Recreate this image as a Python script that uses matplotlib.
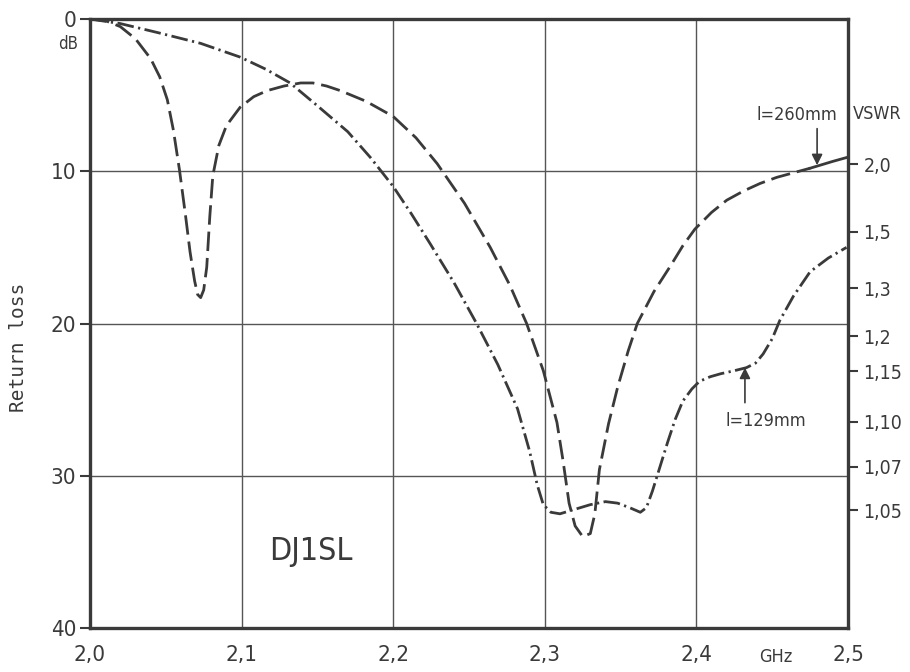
import numpy as np
import matplotlib
matplotlib.use("Agg")
import matplotlib.pyplot as plt

# l = 260 mm curve (dashed), frequency in GHz, return loss in dB
f_260 = [2.000, 2.010, 2.020, 2.030, 2.040, 2.046, 2.051, 2.055, 2.059, 2.063,
         2.066, 2.069, 2.071, 2.073, 2.075, 2.077, 2.079, 2.081, 2.085, 2.090,
         2.099, 2.108, 2.117, 2.128, 2.139, 2.147, 2.156, 2.165, 2.182, 2.200,
         2.215, 2.229, 2.247, 2.264, 2.277, 2.288, 2.299, 2.308, 2.312, 2.316,
         2.320, 2.325, 2.330, 2.333, 2.336, 2.342, 2.348, 2.355, 2.361, 2.372,
         2.383, 2.391, 2.399, 2.410, 2.420, 2.431, 2.442, 2.453, 2.464, 2.475]
rl_260 = [0.0, 0.1, 0.5, 1.3, 2.6, 3.8, 5.3, 7.3, 9.9, 12.9,
          15.3, 17.2, 18.1, 18.3, 17.8, 16.3, 13.0, 10.3, 8.3, 7.0,
          5.8, 5.1, 4.7, 4.4, 4.2, 4.2, 4.4, 4.7, 5.4, 6.4,
          7.8, 9.5, 12.1, 15.0, 17.5, 20.0, 23.1, 26.5, 29.0, 31.8,
          33.3, 34.0, 33.8, 32.5, 29.6, 26.6, 24.2, 21.8, 20.0, 17.9,
          16.2, 14.9, 13.8, 12.7, 11.9, 11.3, 10.8, 10.4, 10.1, 9.8]
# solid tail of the 260 mm curve
f_260_end = [2.475, 2.480, 2.490, 2.499]
rl_260_end = [9.8, 9.65, 9.35, 9.1]

# l = 129 mm curve (dash-dot)
f_129 = [2.000, 2.020, 2.045, 2.073, 2.099, 2.116, 2.132, 2.150, 2.170, 2.185,
         2.200, 2.212, 2.224, 2.240, 2.255, 2.269, 2.282, 2.290, 2.295, 2.299,
         2.304, 2.310, 2.320, 2.330, 2.340, 2.348, 2.356, 2.363, 2.367, 2.371,
         2.376, 2.381, 2.386, 2.391, 2.397, 2.402, 2.409, 2.416, 2.425, 2.433,
         2.439, 2.444, 2.450, 2.455, 2.464, 2.475, 2.487, 2.499]
rl_129 = [0.0, 0.3, 0.9, 1.6, 2.5, 3.3, 4.2, 5.7, 7.4, 9.1,
          11.0, 12.8, 14.7, 17.3, 20.0, 22.7, 25.6, 28.4, 30.6, 31.9,
          32.4, 32.5, 32.2, 31.9, 31.7, 31.8, 32.1, 32.4, 32.1, 31.0,
          29.4, 27.8, 26.3, 25.1, 24.3, 23.8, 23.5, 23.3, 23.1, 22.9,
          22.6, 22.0, 21.0, 19.8, 18.2, 16.6, 15.7, 15.0]

x_ticks = [2.0, 2.1, 2.2, 2.3, 2.4, 2.5]
x_labels = ["2,0", "2,1", "2,2", "2,3", "2,4", "2,5"]
y_ticks = [0, 10, 20, 30, 40]
vswr_vals = [2.0, 1.5, 1.3, 1.2, 1.15, 1.10, 1.07, 1.05]
vswr_labels = ["2,0", "1,5", "1,3", "1,2", "1,15", "1,10", "1,07", "1,05"]

ink = "#3a3a3a"
plt.rcParams["font.family"] = ["DejaVu Sans"]
plt.rcParams["font.stretch"] = "condensed"

fig = plt.figure(figsize=(9.1, 6.72), dpi=100)
ax = fig.add_axes([0.0989, 0.0655, 0.8330, 0.9062])

ax.set_xlim(2.0, 2.5)
ax.set_ylim(40, 0)
ax.set_xticks(x_ticks)
ax.set_xticklabels(x_labels)
ax.set_yticks(y_ticks)
ax.grid(True, color="#555555", lw=1.0)
for s in ax.spines.values():
    s.set_linewidth(2.4)
    s.set_color(ink)
ax.tick_params(axis="x", length=0, pad=12, labelsize=16, colors=ink)
ax.tick_params(axis="y", length=7, width=1.5, pad=3, labelsize=16, colors=ink)

ax.plot(f_260, rl_260, color=ink, lw=2.0, dashes=(7, 2.5))
ax.plot(f_260_end, rl_260_end, color=ink, lw=2.0)
ax.plot(f_129, rl_129, color=ink, lw=2.0, dashes=(6, 1.6, 0.8, 1.6))

# VSWR scale on the right, placed at the matching return loss
ax2 = ax.twinx()
ax2.set_ylim(40, 0)
rl_of_vswr = [-20 * np.log10((v - 1) / (v + 1)) for v in vswr_vals]
ax2.set_yticks(rl_of_vswr)
ax2.set_yticklabels(vswr_labels)
ax2.tick_params(axis="y", length=7, width=1.5, pad=4, labelsize=14, colors=ink)
for s in ax2.spines.values():
    s.set_visible(False)

ax.set_ylabel("Return loss", fontsize=14, color=ink, family="DejaVu Sans Mono")
ax.yaxis.set_label_coords(-0.082, 0.46)
fig.text(0.075, 0.935, "dB", fontsize=12, color=ink, ha="center", va="center")
fig.text(0.964, 0.83, "VSWR", fontsize=13, color=ink, ha="center", va="center")
fig.text(0.853, 0.022, "GHz", fontsize=13, color=ink, ha="center", va="center")
ax.text(2.146, 35.0, "DJ1SL", fontsize=23, color=ink, ha="center", va="center")

# length markers: text with a vertical arrow onto the curve
ax.text(2.4665, 6.3, "l=260mm", fontsize=13, color=ink, ha="center", va="center")
ax.annotate("", xy=(2.4796, 9.6), xytext=(2.4796, 7.2),
            arrowprops=dict(arrowstyle="-|>", color=ink, lw=1.2,
                            mutation_scale=16, shrinkA=0, shrinkB=0))
ax.text(2.446, 26.4, "l=129mm", fontsize=13, color=ink, ha="center", va="center")
ax.annotate("", xy=(2.432, 22.9), xytext=(2.432, 25.2),
            arrowprops=dict(arrowstyle="-|>", color=ink, lw=1.2,
                            mutation_scale=16, shrinkA=0, shrinkB=0))

fig.savefig("out.png", dpi=100)
